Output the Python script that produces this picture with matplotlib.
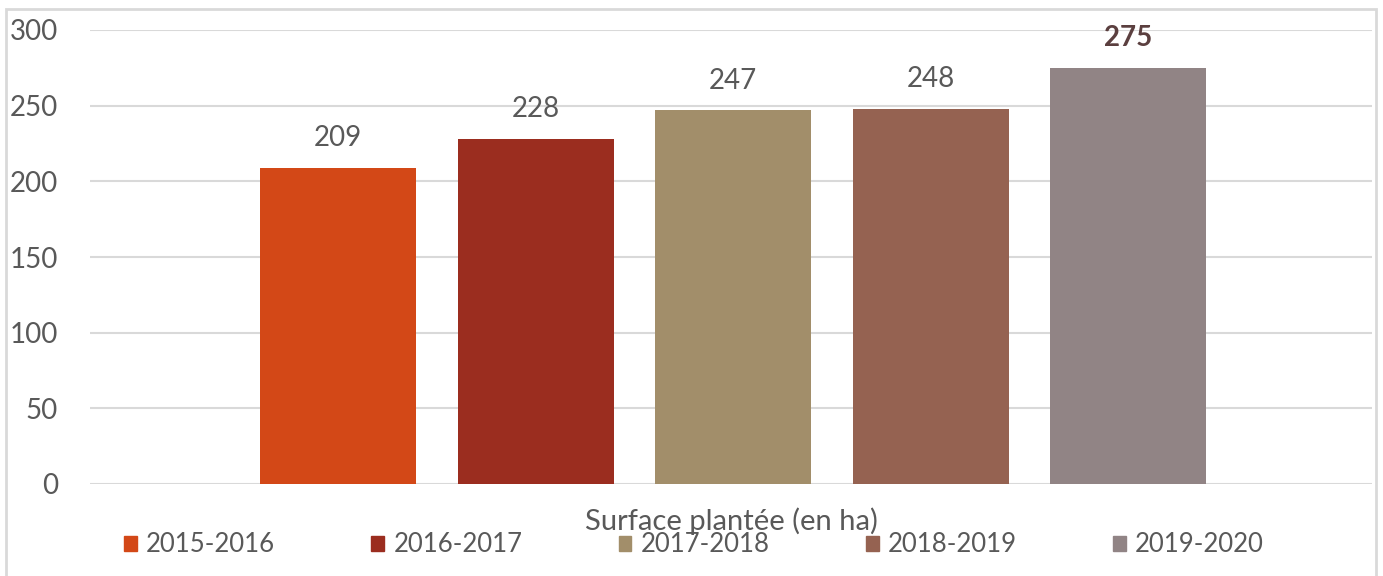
import numpy as np
import matplotlib.pyplot as plt
from matplotlib.patches import Rectangle

# Data
seasons = ['2015-2016', '2016-2017', '2017-2018', '2018-2019', '2019-2020']
surface = [209, 228, 247, 248, 275]
colors = ['#D34817', '#9B2D1F', '#A28E6A', '#956251', '#918485']
yticks = [0, 50, 100, 150, 200, 250, 300]

plt.rcParams['font.family'] = ['Lato', 'DejaVu Sans']
text_color = '#595959'
grid_color = '#D9D9D9'

fig = plt.figure(figsize=(13.83, 5.76), dpi=100)
ax = fig.add_axes([90 / 1383, 1 - 484 / 576, (1372 - 90) / 1383, (484 - 30) / 576])

# One category, five series side by side
pos = np.arange(len(seasons)) - 2
bars = ax.bar(pos, surface, width=0.79, color=colors, zorder=3)

for i, (b, v) in enumerate(zip(bars, surface)):
    last = i == len(surface) - 1
    ax.text(b.get_x() + b.get_width() / 2, v + 11, str(v),
            ha='center', va='bottom', fontsize=20,
            color='#5B3F3F' if last else text_color,
            fontweight='bold' if last else 'normal')

ax.set_xlim(-3.256, 3.235)
ax.set_ylim(0, 300)
ax.set_yticks(yticks)
ax.set_xticks([])
ax.tick_params(axis='y', length=0, pad=23, labelsize=20, labelcolor=text_color)
ax.grid(axis='y', color=grid_color, linewidth=1.5, zorder=0)
for s in ax.spines.values():
    s.set_visible(False)

# Category title under the axis
fig.text(731 / 1383, 1 - 521 / 576, 'Surface plantée (en ha)', ha='center', va='center',
         fontsize=21, color=text_color)

# Legend
handles = [Rectangle((0, 0), 1, 1, color=c) for c in colors]
leg = fig.legend(handles, seasons, loc='center', bbox_to_anchor=(694 / 1383, 1 - 545 / 576),
                 ncol=5, frameon=False, fontsize=18.5, handlelength=0.5, handleheight=0.5,
                 handletextpad=0.35, columnspacing=3.75, labelcolor=text_color)

# Chart border
fig.patches.append(Rectangle((6 / 1383, -0.1), (1376 - 6) / 1383, 1.1 - 9 / 576,
                             transform=fig.transFigure, fill=False,
                             edgecolor=grid_color, linewidth=2))

fig.savefig('out.png', dpi=100)
